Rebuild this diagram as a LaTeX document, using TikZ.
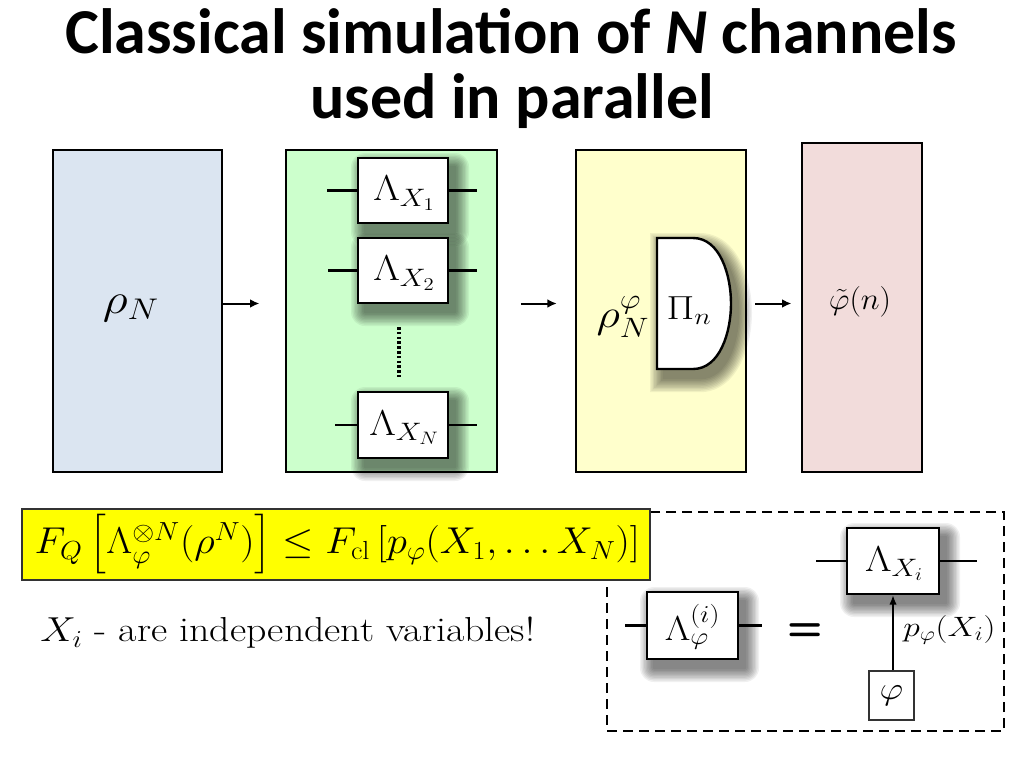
\RequirePackage{fix-cm}
\documentclass[tikz,border=0pt]{standalone}
\usepackage{fontspec}
\newfontfamily\titlefont{Carlito}
\usepackage{amsmath}
\usetikzlibrary{arrows.meta,fit}
\definecolor{pblue}{HTML}{DBE5F1}
\definecolor{pgreen}{HTML}{CCFFCC}
\definecolor{pyellow}{HTML}{FFFFCC}
\definecolor{ppink}{HTML}{F2DCDB}
\definecolor{hiyellow}{HTML}{FFFF00}
\newcommand\hsc[2][1.15]{\scalebox{#1}[1]{#2}}
% soft shadow below a box given by its corners (in px)
\newcommand\softshadow[4]{%
  \foreach \k in {1,...,10}{%
    \pgfmathsetmacro\rr{\k*1.4}\pgfmathsetmacro\rc{\rr*0.75}%
    \fill[black,opacity=0.06,rounded corners=\rc pt] ({#1+7-\rr},{#2+9-\rr}) rectangle ({#3+7+\rr},{#4+9+\rr});}}
\newcommand\Dpath{(657,238) -- (693,238) .. controls (720,238) and (731,275) .. (731,303.5) .. controls (731,332) and (720,369) .. (693,369) -- (657,369) -- cycle}
\tikzset{
 panel/.style={draw=black,line width=1.8pt,inner sep=0pt},
 gate/.style={draw=black,line width=1.8pt,fill=white,inner sep=0pt},
 wire/.style={line width=1.8pt},
 arr/.style={line width=1.5pt,-{Latex[length=7pt,width=6.5pt]}},
 lbl/.style={inner sep=0pt},
 ttl/.style={inner sep=0pt,anchor=base,font=\titlefont\bfseries\fontsize{48}{48}\selectfont},
}
\begin{document}
\begin{tikzpicture}[x=0.75pt,y=-0.75pt]
\useasboundingbox[fill=white] (0,0) rectangle (1024,768);
% title
\node[ttl] (title1) at (511,53) {Classical simulation of \textit{N} channels};
\node[ttl] (title2) at (512,118) {used in parallel};
% panels
\node[panel,fill=pblue,fit={(53,150) (222,472)}] (blue) {};
\node[panel,fill=pgreen,fit={(286,150) (497,472)}] (green) {};
\node[panel,fill=pyellow,fit={(576,150) (746,472)}] (yellow) {};
\node[panel,fill=ppink,fit={(802,143) (922,472)}] (pink) {};
\node[lbl,font=\fontsize{32}{36}\selectfont] (rho) at (131,308) {\hsc{$\rho_N$}};
% channel gates
\softshadow{358}{158}{448}{223}
\softshadow{358}{238}{448}{303}
\softshadow{358}{392}{448}{458}
\node[gate,fit={(358,158) (448,223)}] (g1) {};
\node[lbl,font=\fontsize{27}{30}\selectfont] at ([xshift=1pt,yshift=-2pt]g1.center) {\hsc{$\Lambda_{X_1}$}};
\node[gate,fit={(358,238) (448,303)}] (g2) {};
\node[lbl,font=\fontsize{27}{30}\selectfont] at ([xshift=1pt,yshift=-2pt]g2.center) {\hsc{$\Lambda_{X_2}$}};
\node[gate,fit={(358,392) (448,458)}] (gN) {};
\node[lbl,font=\fontsize{27}{30}\selectfont] at ([xshift=1pt,yshift=-2pt]gN.center) {\hsc{$\Lambda_{X_N}$}};
\coordinate (w1l) at (327,190.5); \coordinate (w1r) at (477,190.5);
\coordinate (w2l) at (328,270.5); \coordinate (w2r) at (477,270.5);
\coordinate (wNl) at (335,425); \coordinate (wNr) at (477,425);
\draw[wire] (w1l) -- (g1.west) (g1.east) -- (w1r);
\draw[wire] (w2l) -- (g2.west) (g2.east) -- (w2r);
\draw[wire] (wNl) -- (gN.west) (gN.east) -- (wNr);
\coordinate (dt) at (399,327); \coordinate (db) at (399,377);
\draw[line width=2.4pt,dash pattern=on 2pt off 1.6pt] (dt) -- (db);
% measurement
\foreach \k in {1,...,10}{%
  \pgfmathsetmacro\sx{1+\k*1.4/37}\pgfmathsetmacro\sy{1+\k*1.4/65}%
  \begin{scope}[shift={(701,312)},xscale=\sx,yscale=\sy,shift={(-694,-303)}]
    \fill[black,opacity=0.06] \Dpath;
  \end{scope}}
\draw[line width=1.8pt,fill=white] \Dpath;
\node[lbl,font=\fontsize{25}{29}\selectfont] (pi) at (689,311) {\hsc[1.2]{$\Pi_n$}};
\node[lbl,font=\fontsize{30}{34}\selectfont] (rhophi) at (623,317) {\hsc{$\rho_N^{\varphi}$}};
\node[lbl,font=\fontsize{23}{27}\selectfont] (est) at (860,302) {\hsc[1.05]{$\tilde{\varphi}(n)$}};
% arrows
\coordinate (ay) at (0,303.5);
\draw[arr,shorten >=19pt] (blue.east|-ay) -- (green.west|-ay);
\draw[arr,shorten <=17pt,shorten >=13.5pt] (green.east|-ay) -- (yellow.west|-ay);
\draw[arr,shorten <=6pt,shorten >=7pt] (yellow.east|-ay) -- (pink.west|-ay);
% dashed box
\node[draw=black,line width=2pt,dash pattern=on 7.5pt off 4.5pt,fit={(607,512) (1004,731)},inner sep=0pt] (dbox) {};
% formula
\node[draw=black!80,line width=1.2pt,fill=hiyellow,fit={(22,509) (650,580)},inner sep=0pt] (fbox) {};
\node[lbl,font=\fontsize{28}{32}\selectfont] (formula) at ([xshift=1pt]fbox.center) {\hsc[1.08]{$F_Q\,\bigl[\Lambda_\varphi^{\otimes N}(\rho^N)\bigr]\leq F_{\mathrm{cl}}\left[p_\varphi(X_1,\dots X_N)\right]$}};
\node[lbl,anchor=west,font=\fontsize{26}{30}\selectfont] (indep) at (40,633) {\hsc{$X_i$ - are independent variables!}};
\softshadow{647}{592}{738}{659}
\node[gate,fit={(647,592) (738,659)}] (gl) {};
\node[lbl,font=\fontsize{26}{30}\selectfont] at ([yshift=-1pt]gl.center) {\hsc{$\Lambda_\varphi^{(i)}$}};
\coordinate (gll) at (625,625.5); \coordinate (glr) at (762,625.5);
\draw[wire] (gll) -- (gl.west) (gl.east) -- (glr);
\node[lbl,font=\sffamily\bfseries\fontsize{31}{31}\selectfont] (eq) at (805,632) {=};
\softshadow{847}{528}{939}{594}
\node[gate,fit={(847,528) (939,594)}] (gr) {};
\node[lbl,font=\fontsize{27}{30}\selectfont] at ([xshift=1pt,yshift=-2pt]gr.center) {\hsc{$\Lambda_{X_i}$}};
\coordinate (grl) at (816,561); \coordinate (grr) at (977,561);
\draw[wire] (grl) -- (gr.west) (gr.east) -- (grr);
\node[draw=black!80,line width=0.9pt,fill=white,fit={(869,671) (914,720)},inner sep=0pt] (phi) {};
\node[lbl,font=\fontsize{24}{28}\selectfont] at (phi.center) {\hsc{$\varphi$}};
\draw[line width=1.1pt,-{Latex[length=7pt,width=5.5pt]}] (phi.north-|gr.south) -- (gr.south);
\node[lbl,anchor=west,font=\fontsize{21}{25}\selectfont] (pl) at (903,630) {\hsc[1.2]{$p_\varphi(X_i)$}};
\end{tikzpicture}
\end{document}
